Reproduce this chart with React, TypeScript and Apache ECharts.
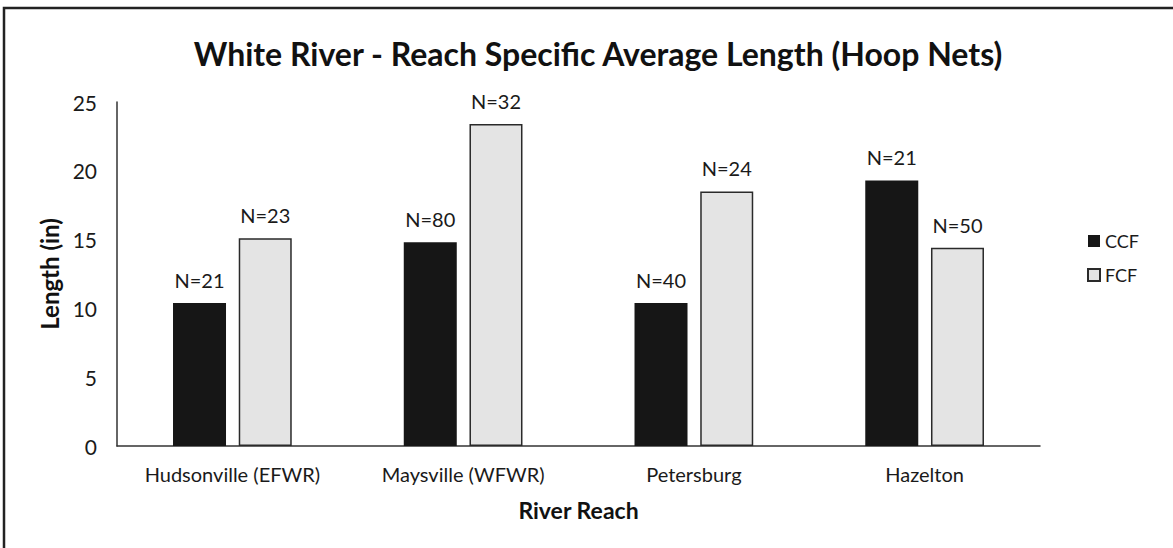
import React, { useEffect, useRef } from "react";
import * as echarts from "echarts";

const categories = ["Hudsonville (EFWR)", "Maysville (WFWR)", "Petersburg", "Hazelton"];
const ccfValues = [10.4, 14.8, 10.4, 19.3];
const fcfValues = [15.1, 23.4, 18.5, 14.4];
const ccfN = [21, 80, 40, 21];
const fcfN = [23, 32, 24, 50];
const yTicks = [0, 5, 10, 15, 20, 25];

const FONT = "Lato, 'Liberation Sans', sans-serif";

export default function App() {
  const ref = useRef<HTMLDivElement>(null);
  useEffect(() => {
    if (!ref.current) return;
    const chart = echarts.init(ref.current, null, { renderer: "svg" });
    chart.setOption({
      animation: false,
      backgroundColor: "#ffffff",
      textStyle: { fontFamily: FONT, color: "#1a1a1a" },
      title: {
        text: "White River - Reach Specific Average Length (Hoop Nets)",
        left: 593,
        textAlign: "center",
        top: 32,
        textStyle: { fontFamily: FONT, fontSize: 32, fontWeight: "bold", color: "#111" },
      },
      graphic: [
        {
          type: "rect",
          shape: { x: 4, y: 8, width: 1200, height: 600 },
          style: { fill: "none", stroke: "#222", lineWidth: 2.5 },
          silent: true,
        },
      ],
      legend: {
        orient: "vertical",
        left: 1082,
        top: 226,
        icon: "rect",
        itemWidth: 12,
        itemHeight: 12,
        itemGap: 14,
        textStyle: { fontFamily: FONT, fontSize: 18, lineHeight: 20, color: "#1a1a1a" },
        data: ["CCF", "FCF"],
      },
      grid: { left: 117, right: 133, top: 102, bottom: 102, containLabel: false },
      xAxis: {
        type: "category",
        data: categories,
        name: "River Reach",
        nameLocation: "middle",
        nameGap: 52,
        nameTextStyle: { fontFamily: FONT, fontSize: 23, fontWeight: "bold", color: "#111" },
        axisLine: { show: true, lineStyle: { color: "#333", width: 1.5 } },
        axisTick: { show: false },
        axisLabel: { fontFamily: FONT, fontSize: 20, color: "#1a1a1a", margin: 18 },
      },
      yAxis: {
        type: "value",
        min: yTicks[0],
        max: yTicks[yTicks.length - 1],
        interval: 5,
        name: "Length (in)",
        nameLocation: "middle",
        nameGap: 42,
        nameRotate: 90,
        nameTextStyle: { fontFamily: FONT, fontSize: 24, fontWeight: "bold", color: "#111" },
        axisLine: { show: true, lineStyle: { color: "#333", width: 1.5 } },
        axisTick: { show: false },
        splitLine: { show: false },
        axisLabel: { fontFamily: FONT, fontSize: 21, color: "#1a1a1a", margin: 20 },
      },
      series: [
        {
          name: "CCF",
          type: "bar",
          data: ccfValues,
          barWidth: 53,
          barGap: "24%",
          itemStyle: { color: "#161616" },
          label: {
            show: true,
            position: "top",
            distance: 13,
            fontFamily: FONT,
            fontSize: 20,
            color: "#1a1a1a",
            formatter: (p: any) => "N=" + ccfN[p.dataIndex],
          },
        },
        {
          name: "FCF",
          type: "bar",
          data: fcfValues,
          barWidth: 53,
          barGap: "24%",
          itemStyle: { color: "#e4e4e4", borderColor: "#2a2a2a", borderWidth: 1.5 },
          label: {
            show: true,
            position: "top",
            distance: 13,
            fontFamily: FONT,
            fontSize: 20,
            color: "#1a1a1a",
            formatter: (p: any) => "N=" + fcfN[p.dataIndex],
          },
        },
      ],
    });
    return () => chart.dispose();
  }, []);
  return (
    <div
      ref={ref}
      style={{ position: "fixed", left: 0, top: 0, width: 1173, height: 548 }}
    />
  );
}
